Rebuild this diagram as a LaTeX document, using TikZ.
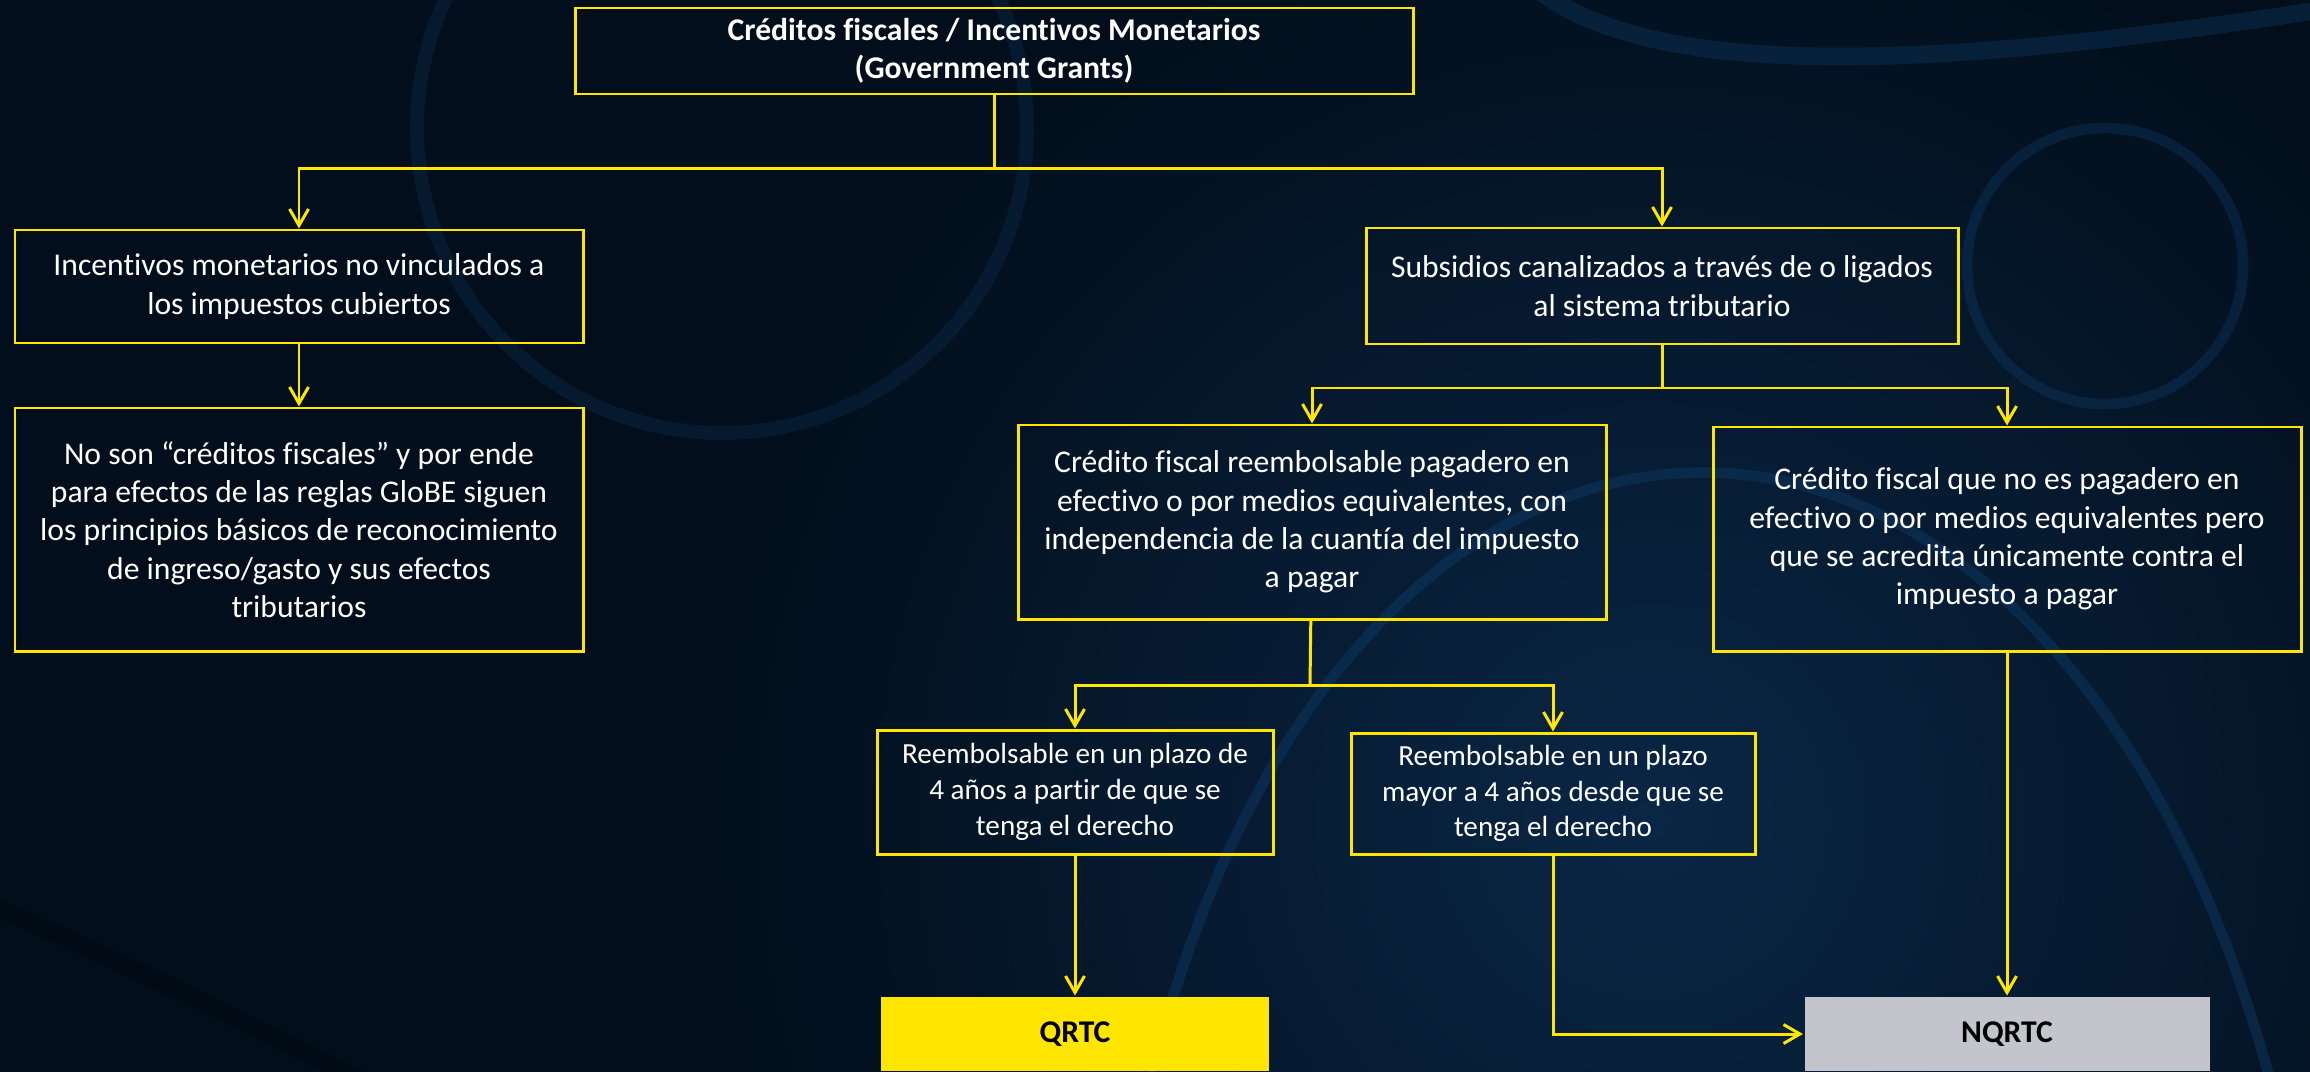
\documentclass[tikz,border=0pt]{standalone}
\usepackage{fontspec}
\setmainfont{Carlito}[Ligatures=NoCommon]
\usepackage{tikz}
\usetikzlibrary{arrows.meta}
\definecolor{bgdark}{HTML}{020E1B}
\definecolor{bgmid}{HTML}{0A2645}
\definecolor{arcblue}{HTML}{114477}
\definecolor{eyellow}{HTML}{FFE600}
\definecolor{nqgray}{HTML}{C4C4CC}
\newcommand{\bigtxt}{\fontsize{9}{10.9}\selectfont}
\newcommand{\smalltxt}{\fontsize{8.3}{10.2}\selectfont}

\begin{document}
\begin{tikzpicture}[y=-1cm,>={Straight Barb[length=4.7pt,width=5.4pt]},
  line width=0.85pt,
  main node/.style={draw=eyellow,text=white,align=center,inner sep=0pt,font=\bigtxt},
  small node/.style={main node,font=\smalltxt},
  end node/.style={fill=#1,text=black,inner sep=0pt,font=\bigtxt\bfseries,
    minimum width=3.9cm,minimum height=0.74cm},
  link/.style={draw=eyellow,->}]

  \useasboundingbox (0,0) rectangle (23.1,10.71);
  \fill[bgdark] (-0.1,-0.1) rectangle (23.2,10.8);
  \begin{scope}
    \clip (-0.1,-0.1) rectangle (23.2,10.8);
    \shade[inner color=bgmid,outer color=bgdark] (16.5,8.2) circle (9.5);
    \draw[arcblue,line width=4pt,opacity=0.22] (7.22,1.28) circle (3.05);
    \draw[arcblue,line width=3pt,opacity=0.3] (21.05,2.66) circle (1.38);
    \draw[arcblue,line width=3pt,opacity=0.35]
      (11.5,10.8) .. controls (13.5,2.7) and (20.5,2.7) .. (22.7,10.8);
    \draw[arcblue,line width=5pt,opacity=0.3]
      (15.38,-0.1) .. controls (16.5,0.75) and (19,0.75) .. (23.2,0.1);
    \draw[black,line width=5pt,opacity=0.2]
      (-0.1,9.05) .. controls (1.2,9.6) and (2.6,10.3) .. (3.6,10.8);
  \end{scope}

  \node[main node,font=\bigtxt\bfseries,minimum width=8.38cm,minimum height=0.86cm]
    (1) at (9.94,0.51)
    {Créditos fiscales / Incentivos Monetarios\\(Government Grants)};
  \node[main node,minimum width=5.68cm,minimum height=1.13cm] (11) at (2.99,2.865)
    {Incentivos monetarios no vinculados a\\los impuestos cubiertos};
  \node[main node,minimum width=5.68cm,minimum height=2.43cm] (111) at (2.99,5.295)
    {No son “créditos fiscales” y por ende\\para efectos de las reglas GloBE siguen\\
     los principios básicos de reconocimiento\\de ingreso/gasto y sus efectos\\tributarios};
  \node[main node,minimum width=5.92cm,minimum height=1.16cm] (12) at (16.62,2.86)
    {Subsidios canalizados a través de o ligados\\al sistema tributario};
  \node[main node,minimum width=5.88cm,minimum height=1.94cm] (121) at (13.12,5.22)
    {Crédito fiscal reembolsable pagadero en\\efectivo o por medios equivalentes, con\\
     independencia de la cuantía del impuesto\\a pagar};
  \node[main node,minimum width=5.88cm,minimum height=2.24cm] (122) at (20.07,5.39)
    {Crédito fiscal que no es pagadero en\\efectivo o por medios equivalentes pero\\
     que se acredita únicamente contra el\\impuesto a pagar};
  \node[small node,minimum width=3.96cm,minimum height=1.24cm] (1211) at (10.75,7.92)
    {Reembolsable en un plazo de\\4 años a partir de que se\\tenga el derecho};
  \node[small node,minimum width=4.04cm,minimum height=1.21cm] (1212) at (15.53,7.935)
    {Reembolsable en un plazo\\mayor a 4 años desde que se\\tenga el derecho};
  \node[end node=eyellow,minimum width=3.88cm] (q) at (10.75,10.34) {QRTC};
  \node[end node=nqgray,minimum width=4.05cm] (nq) at (20.07,10.34) {NQRTC};

  \coordinate (j1) at (9.94,1.685);
  \coordinate (j12) at (16.62,3.88);
  \coordinate (j121) at (13.1,6.85);

  \draw[eyellow] (1) -- (j1);
  \draw[link] (j1) -| (11);
  \draw[link] (j1) -| (12);
  \draw[eyellow] (12) -- (j12);
  \draw[link] (j12) -| (121);
  \draw[link] (j12) -| (122);
  \draw[eyellow] (121) -- (j121);
  \draw[link] (j121) -| (1211);
  \draw[link] (j121) -| (1212);
  \draw[link] (1212) |- (nq);

  \path[link]
    (11) edge (111)
    (1211) edge (q)
    (122) edge (nq);

\end{tikzpicture}
\end{document}
